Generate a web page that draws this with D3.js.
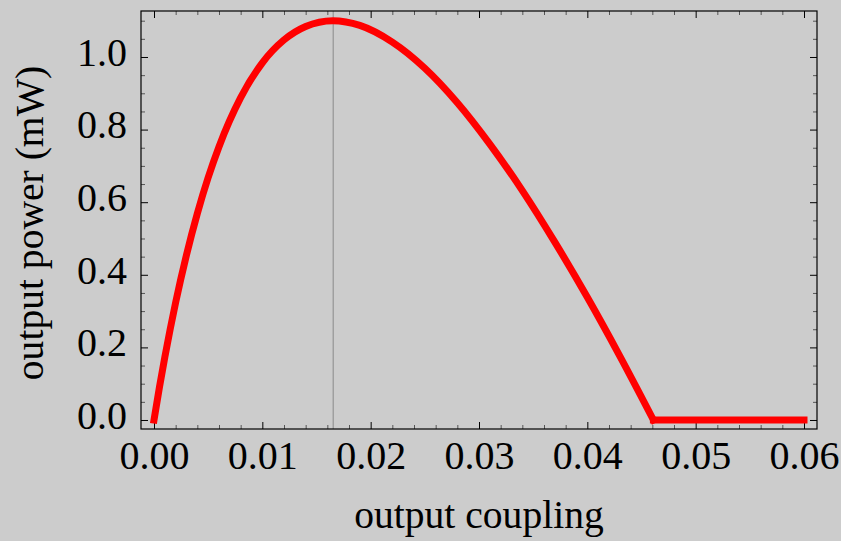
<!DOCTYPE html>
<html>
<head>
<meta charset="utf-8">
<script src="https://cdn.jsdelivr.net/npm/d3@7"></script>
<style>
  html, body { margin: 0; padding: 0; background: #cccccc; }
  svg { display: block; }
</style>
</head>
<body>
<div id="chart"></div>
<script>
// values
const coupling = [0, 0.0005, 0.001, 0.002, 0.003, 0.004, 0.005, 0.006, 0.008, 0.010,
  0.012, 0.014, 0.0165, 0.019, 0.022, 0.025, 0.028, 0.031, 0.034, 0.037,
  0.040, 0.043, 0.0461];
const power = [0, 0.09, 0.173, 0.324, 0.455, 0.569, 0.668, 0.753, 0.888, 0.984,
  1.047, 1.084, 1.100, 1.087, 1.041, 0.969, 0.874, 0.760, 0.632, 0.490,
  0.338, 0.176, 0];
const flatCoupling = [0.0461, 0.06];
const flatPower = [0, 0];
const optimum = 0.01654;

const xTicks = [0, 0.01, 0.02, 0.03, 0.04, 0.05, 0.06];
const yTicks = [0, 0.2, 0.4, 0.6, 0.8, 1.0];

const width = 841, height = 541;
const frameL = 141, frameR = 817, frameT = 11, frameB = 429;
const fontFam = "'Liberation Serif', 'Times New Roman', serif";

const svg = d3.select("#chart").append("svg")
  .attr("width", width)
  .attr("height", height);

svg.append("rect")
  .attr("width", width).attr("height", height)
  .attr("fill", "#cccccc");

const x = d3.scaleLinear().domain([-0.0012, 0.0612]).range([frameL, frameR]);
const y = d3.scaleLinear().domain([-0.0248, 1.1267]).range([frameB, frameT]);

const xMinor = d3.range(0, 61).map(i => i * 0.001).filter((v, i) => i % 2 == 0 && i % 10 != 0);
const yMinor = d3.range(0, 23).map(i => i * 0.05).filter((v, i) => i % 4 != 0);

function styleAxis(g, color) {
  g.select(".domain").remove();
  g.selectAll(".tick line").attr("stroke", color).attr("stroke-width", 1);
  g.selectAll("text")
    .attr("fill", "#000")
    .attr("font-family", fontFam)
    .attr("font-size", "40px");
}

// minor ticks, all four sides
svg.append("g").attr("transform", `translate(0,${frameB})`)
  .call(d3.axisBottom(x).tickValues(xMinor).tickSize(-4).tickFormat(""))
  .call(styleAxis, "#555");
svg.append("g").attr("transform", `translate(0,${frameT})`)
  .call(d3.axisTop(x).tickValues(xMinor).tickSize(-4).tickFormat(""))
  .call(styleAxis, "#555");
svg.append("g").attr("transform", `translate(${frameL},0)`)
  .call(d3.axisLeft(y).tickValues(yMinor).tickSize(-4).tickFormat(""))
  .call(styleAxis, "#555");
svg.append("g").attr("transform", `translate(${frameR},0)`)
  .call(d3.axisRight(y).tickValues(yMinor).tickSize(-4).tickFormat(""))
  .call(styleAxis, "#555");

// major ticks
svg.append("g").attr("transform", `translate(0,${frameB})`)
  .call(d3.axisBottom(x).tickValues(xTicks).tickSize(-7).tickPadding(12).tickFormat(d3.format(".2f")))
  .call(styleAxis, "#000");
svg.append("g").attr("transform", `translate(0,${frameT})`)
  .call(d3.axisTop(x).tickValues(xTicks).tickSize(-7).tickFormat(""))
  .call(styleAxis, "#000");
svg.append("g").attr("transform", `translate(${frameL},0)`)
  .call(d3.axisLeft(y).tickValues(yTicks).tickSize(-7).tickPadding(14).tickFormat(d3.format(".1f")))
  .call(styleAxis, "#000")
  .call(g => g.selectAll("text").attr("dy", "0.21em"));
svg.append("g").attr("transform", `translate(${frameR},0)`)
  .call(d3.axisRight(y).tickValues(yTicks).tickSize(-7).tickFormat(""))
  .call(styleAxis, "#000");

// optimum marker
svg.append("line")
  .attr("x1", x(optimum)).attr("x2", x(optimum))
  .attr("y1", frameT).attr("y2", frameB)
  .attr("stroke", "#8a8a8a").attr("stroke-width", 1);

// frame
svg.append("rect")
  .attr("x", frameL).attr("y", frameT)
  .attr("width", frameR - frameL).attr("height", frameB - frameT)
  .attr("fill", "none").attr("stroke", "#000").attr("stroke-width", 1.2);

// curve
const line = d3.line()
  .x(d => x(d[0]))
  .y(d => y(d[1]))
  .curve(d3.curveMonotoneX);

svg.append("path")
  .datum(coupling.map((c, i) => [c, power[i]]))
  .attr("d", line)
  .attr("fill", "none")
  .attr("stroke", "#ff0000")
  .attr("stroke-width", 7)
  .attr("stroke-linecap", "square")
  .attr("stroke-linejoin", "round");

svg.append("path")
  .datum(flatCoupling.map((c, i) => [c, flatPower[i]]))
  .attr("d", line.curve(d3.curveLinear))
  .attr("fill", "none")
  .attr("stroke", "#ff0000")
  .attr("stroke-width", 7)
  .attr("stroke-linecap", "square");

// axis labels
svg.append("text")
  .attr("x", (frameL + frameR) / 2)
  .attr("y", 528)
  .attr("text-anchor", "middle")
  .call(t => t.attr("font-family", fontFam).attr("font-size", "39.6px").attr("fill", "#000"))
  .text("output coupling");

svg.append("text")
  .attr("transform", "translate(43,223) rotate(-90)")
  .attr("text-anchor", "middle")
  .call(t => t.attr("font-family", fontFam).attr("font-size", "39.6px").attr("fill", "#000"))
  .text("output power (mW)");
</script>
</body>
</html>
